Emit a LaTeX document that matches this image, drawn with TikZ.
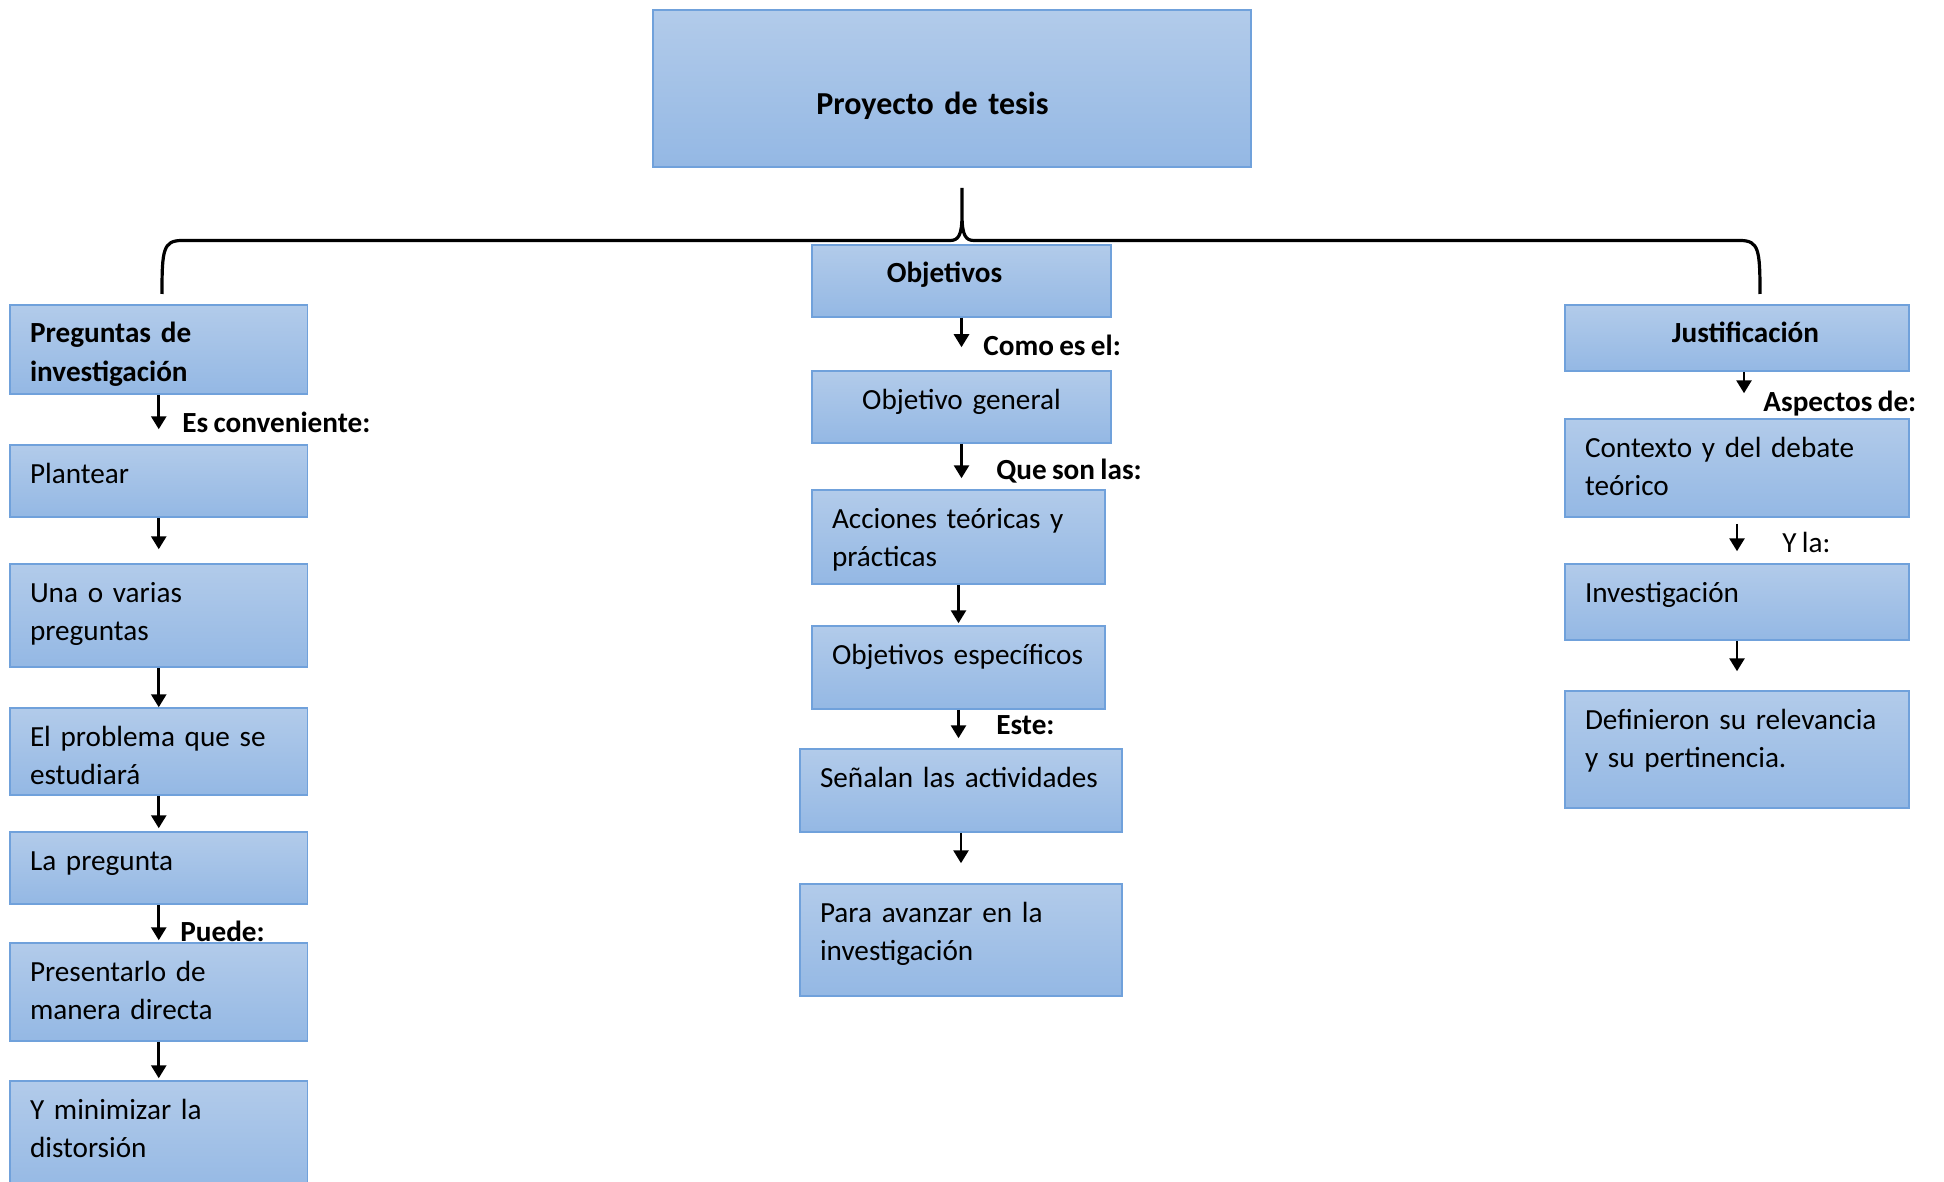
\documentclass[tikz,border=0pt]{standalone}
\usepackage{fontspec}
\setmainfont{Carlito}[WordSpace=0.8]
\usetikzlibrary{arrows.meta}

\definecolor{boxtop}{RGB}{178,203,234}
\definecolor{boxbot}{RGB}{148,184,228}
\definecolor{boxline}{RGB}{112,161,219}
\newcommand{\tesisfont}{\fontsize{14.6pt}{19.2pt}\selectfont}

\begin{document}
\begin{tikzpicture}[x=0.5pt, y=-0.5pt, font=\tesisfont,
  box/.style={rectangle, draw=boxline, line width=0.75pt, top color=boxtop,
    bottom color=boxbot, inner xsep=10pt, inner ysep=0pt, align=left},
  tall/.style={minimum height=#1pt, text height=19pt, text depth={#1pt-19pt}},
  lbl/.style={anchor=base west, inner sep=0pt, font=\tesisfont\bfseries},
  arr/.style={line width=1.4pt, -{Triangle[width=7.5pt,length=6.5pt]}}]

\useasboundingbox (0,0) rectangle (1944,1182);

\node[box, align=center, text width=279pt, minimum height=78.5pt, text height=52.4pt,
  text depth=26.1pt, font=\fontsize{16pt}{20pt}\selectfont\bfseries] (proyecto) at (952,88.5)
  {\hspace*{-19.5pt}Proyecto de tesis};

\node[box, tall=44.5, text width=128.75pt, font=\tesisfont\bfseries] (preguntas) at (158.75,349.5) {Preguntas de\\investigación};
\node[box, tall=36, text width=128.75pt] (plantear) at (158.75,481) {Plantear};
\node[box, tall=51.5, text width=128.75pt] (una) at (158.75,615.5) {Una o varias\\preguntas};
\node[box, tall=43.5, text width=128.75pt] (problema) at (158.75,751.5) {El problema que se\\estudiará};
\node[box, tall=36, text width=128.75pt] (pregunta) at (158.75,868) {La pregunta};
\node[box, tall=49, text width=128.75pt] (presentarlo) at (158.75,992) {Presentarlo de\\manera directa};
\node[box, tall=57, text width=128.75pt] (minimizar) at (158.75,1138) {Y minimizar la\\distorsión};

\node[box, tall=36, align=center, text width=129.5pt, font=\tesisfont\bfseries] (objetivos) at (961.5,281) {\hspace*{-17pt}Objetivos};
\node[box, tall=36, align=center, text width=129.5pt] (general) at (961.5,407) {Objetivo general};
\node[box, tall=47, text width=126.5pt] (acciones) at (958.5,537) {Acciones teóricas y\\prácticas};
\node[box, tall=41.5, text width=126.5pt] (especificos) at (958.5,667.5) {Objetivos específicos};
\node[box, tall=41.5, text width=141pt] (senalan) at (961,790.5) {Señalan las actividades};
\node[box, tall=56, text width=141pt] (avanzar) at (961,940) {Para avanzar en la\\investigación};

\node[box, tall=33, align=center, text width=152pt, font=\tesisfont\bfseries] (justificacion) at (1737,338) {\hspace*{8.5pt}Justificación};
\node[box, tall=49, text width=152pt] (contexto) at (1737,468) {Contexto y del debate\\teórico};
\node[box, tall=38, text width=152pt] (investigacion) at (1737,602) {Investigación};
\node[box, tall=58.5, text width=152pt] (definieron) at (1737,749.5) {Definieron su relevancia\\y su pertinencia.};

\node[lbl] (esconv) at (182,432) {Es conveniente:};
\node[lbl] (puede) at (180,941) {Puede:};
\node[lbl] (comoes) at (983,356) {Como es el:};
\node[lbl] (queson) at (996,479) {Que son las:};
\node[lbl] (este) at (996,734) {Este:};
\node[lbl] (aspectos) at (1763,411) {Aspectos de:};
\node[lbl, font=\tesisfont] (yla) at (1782,552) {Y la:};

\coordinate (llave) at (962,188);
\coordinate (izq) at (162,294);
\coordinate (der) at (1760,294);
\draw[line width=1.6pt] (izq) .. controls (162,250) and (163,240.5) .. (182,240.5)
  -- (950,240.5) .. controls (958,240.5) and (962,236) .. (962,215) -- (llave)
  -- (962,215) .. controls (962,236) and (966,240.5) .. (974,240.5)
  -- (1740,240.5) .. controls (1759,240.5) and (1760,250) .. (der);

\draw[arr, shorten >=7.5pt] (preguntas.south) -- (preguntas.south |- plantear.north);
\draw[arr, shorten >=7pt] (plantear.south) -- (plantear.south |- una.north);
\draw[arr] (una.south) -- (una.south |- problema.north);
\draw[arr, shorten >=1.5pt] (problema.south) -- (problema.south |- pregunta.north);
\draw[arr, shorten >=1pt] (pregunta.south) -- (pregunta.south |- presentarlo.north);
\draw[arr, shorten >=1pt] (presentarlo.south) -- (presentarlo.south |- minimizar.north);

\draw[arr, shorten >=11.5pt] (objetivos.south) -- (objetivos.south |- general.north);
\draw[arr, shorten >=5.5pt] (general.south) -- (general.south |- acciones.north);
\draw[arr, shorten >=1pt] (acciones.south) -- (acciones.south |- especificos.north);
\draw[arr, shorten >=5pt] (especificos.south) -- (especificos.south |- senalan.north);
\draw[arr, shorten >=10pt] (senalan.south) -- (senalan.south |- avanzar.north);

\draw[arr, shorten >=12.5pt] ([xshift=3.5pt]justificacion.south) -- ([xshift=3.5pt]justificacion.south |- contexto.north);
\draw[arr, shorten <=3pt, shorten >=6pt] (contexto.south) -- (contexto.south |- investigacion.north);
\draw[arr, shorten >=9.5pt] (investigacion.south) -- (investigacion.south |- definieron.north);

\end{tikzpicture}
\end{document}
